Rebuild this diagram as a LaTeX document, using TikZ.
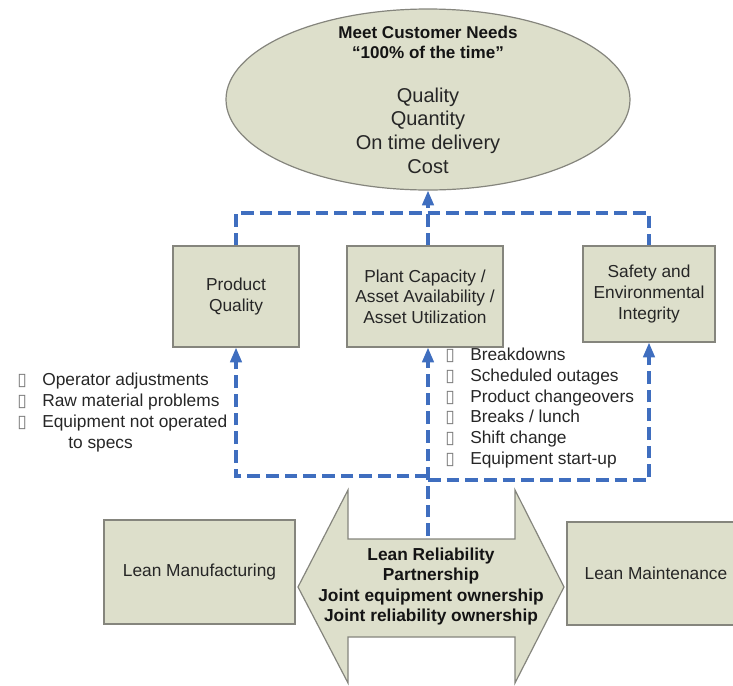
\documentclass[tikz,border=0pt]{standalone}
\usepackage{fontspec}
\setmainfont{Liberation Sans}
\newfontfamily\symfont{DejaVu Sans}
\usetikzlibrary{arrows.meta,shapes.geometric}
\definecolor{boxfill}{HTML}{DDDFCB}
\definecolor{boxline}{HTML}{85857D}
\definecolor{flow}{HTML}{3F6EBF}
\definecolor{txt}{HTML}{262626}
\definecolor{bltcol}{HTML}{7A7A7A}
\newcommand{\blt}{\makebox[18.75pt][l]{\symfont\color{bltcol}▯}}
\begin{document}
\begin{tikzpicture}[x=0.75pt,y=-0.75pt,
  box/.style={draw=boxline, line width=0.9pt, fill=boxfill, inner sep=0pt, align=center,
              font=\fontsize{13}{15.4}\selectfont, text=txt},
  flowline/.style={draw=flow, line width=2.4pt, dash pattern=on 9.5pt off 4.5pt},
  flowarrow/.style={flowline, -{Triangle[width=8.5pt,length=11pt]}},
  listtext/.style={anchor=west, align=left, inner sep=0pt, text=txt},
  boldtext/.style={align=center, inner sep=0pt, text=black!92}]
\useasboundingbox (0,0) rectangle (733,686);
\clip (0,0) rectangle (733,686);

% goal ellipse
\node[ellipse, draw=boxline, fill=boxfill, line width=0.9pt, minimum width=303pt,
      minimum height=135.75pt, inner sep=0pt] (goal) at (428,99.5) {};
\node[boldtext, font=\bfseries\fontsize{12.8}{15}\selectfont] (goaltitle) at (428,42)
  {Meet Customer Needs\\“100\% of the time”};
\node[align=center, inner sep=0pt, text=txt, font=\fontsize{15}{17.8}\selectfont] (goalitems) at (428,130.5)
  {Quality\\Quantity\\On time delivery\\Cost};

% middle boxes
\node[box, minimum width=94.5pt, minimum height=75.75pt] (pq) at (236,296.5) {Product\\Quality};
\node[box, minimum width=117pt, minimum height=75.75pt] (pc) at (425,296.5)
  {Plant Capacity /\\Asset Availability /\\Asset Utilization};
\node[box, minimum width=99pt, minimum height=72pt] (sf) at (649,294)
  {Safety and\\Environmental\\Integrity};

% lists
\node[listtext, font=\fontsize{13}{15.75}\selectfont] (causesq) at (17,412.5)
  {\blt Operator adjustments\\\blt Raw material problems\\\blt Equipment not operated\\\hspace*{38.25pt}to specs};
\node[listtext, font=\fontsize{13}{15.6}\selectfont] (causesc) at (445,408)
  {\blt Breakdowns\\\blt Scheduled outages\\\blt Product changeovers\\\blt Breaks / lunch\\\blt Shift change\\\blt Equipment start-up};

% bottom double arrow
\path[draw=boxline, fill=boxfill, line width=0.9pt]
  (298,587) -- (348,490) -- (348,539) -- (515,539) -- (515,490) -- (564,587)
  -- (515,683) -- (515,637) -- (348,637) -- (348,683) -- cycle;
\node[boldtext, font=\bfseries\fontsize{13}{15.4}\selectfont] (lrp) at (431,586.5)
  {Lean Reliability\\Partnership\\Joint equipment ownership\\Joint reliability ownership};
\coordinate (shafttop) at (428,536);

% bottom boxes
\node[box, minimum width=143.25pt, minimum height=78pt] (lm) at (199.5,572) {Lean Manufacturing};
\node[box, minimum width=133.5pt, minimum height=77.25pt] (lmt) at (656,573.5) {Lean Maintenance};

% connectors
\coordinate (topbus) at (428,213);
\draw[flowline] (pq.north) |- (topbus) -| (sf.north);
\draw[flowarrow] (goal.south |- pc.north) -- (goal.south);

\coordinate (lowbusL) at (428,476);
\coordinate (lowbusR) at (428,480);
\draw[flowarrow] (lowbusL) -| (pq.south);
\draw[flowarrow] (lowbusR) -| (sf.south);
\draw[flowarrow] (shafttop) -- (shafttop |- pc.south);
\end{tikzpicture}
\end{document}
